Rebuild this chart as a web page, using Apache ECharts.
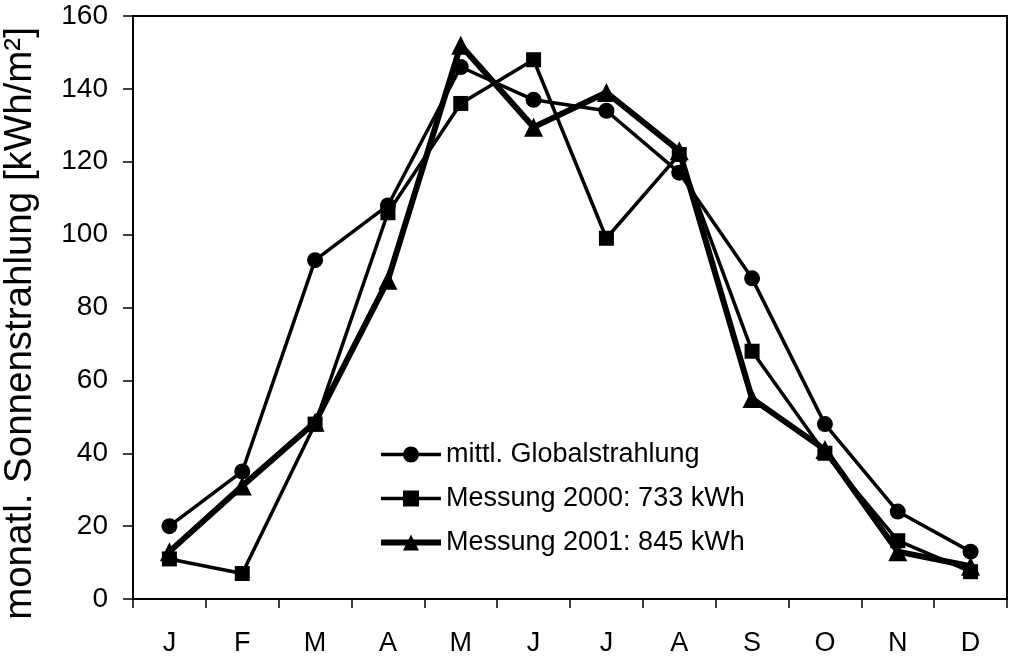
<!DOCTYPE html>
<html>
<head>
<meta charset="utf-8">
<script src="https://cdn.jsdelivr.net/npm/echarts@6/dist/echarts.min.js"></script>
<style>
html,body{margin:0;padding:0;background:#fff;}
#chart{width:1009px;height:660px;}
</style>
</head>
<body>
<div id="chart"></div>
<script>
const months = ['J','F','M','A','M','J','J','A','S','O','N','D'];
const seriesNames = ['mittl. Globalstrahlung','Messung 2000: 733 kWh','Messung 2001: 845 kWh'];
const globalMean = [20, 35, 93, 108, 146, 137, 134, 117, 88, 48, 24, 13];
const mess2000 = [11, 7, 48, 106, 136, 148, 99, 122, 68, 40, 16, 7.5];
const mess2001 = [13, 31, 48.5, 87.5, 152, 129.5, 139, 123, 55, 41, 13, 9];
const yTicks = [0, 20, 40, 60, 80, 100, 120, 140, 160];
const yName = 'monatl. Sonnenstrahlung [kWh/m²]';

const font = 'Liberation Sans, Arial, Helvetica, sans-serif';
const thin = 3.5, thick = 6;
const chart = echarts.init(document.getElementById('chart'));
chart.setOption({
  animation: false,
  backgroundColor: '#fff',
  grid: {left: 133, right: 2, top: 16, bottom: 61, show: true, borderColor: '#000', borderWidth: 2,
         containLabel: false, outerBoundsMode: 'none'},
  legend: {
    orient: 'vertical', left: 378, top: 441, padding: 0, itemWidth: 60, itemHeight: 20, itemGap: 17,
    textStyle: {fontFamily: font, fontSize: 27, color: '#000'},
    data: [
      {name: seriesNames[0], lineStyle: {width: thin, color: '#000'}},
      {name: seriesNames[1], lineStyle: {width: thin, color: '#000'}},
      {name: seriesNames[2], lineStyle: {width: thick, color: '#000'}}
    ]
  },
  xAxis: {
    type: 'category', data: months, boundaryGap: true,
    axisLine: {lineStyle: {color: '#000', width: 2}},
    axisTick: {show: true, length: 9, lineStyle: {color: '#000', width: 1.5}},
    axisLabel: {fontFamily: font, fontSize: 27, color: '#000', margin: 31},
    splitLine: {show: false}
  },
  yAxis: {
    type: 'value', min: yTicks[0], max: yTicks[yTicks.length-1], interval: 20,
    name: yName, nameLocation: 'middle', nameGap: 93,
    nameTextStyle: {fontFamily: font, fontSize: 38.5, color: '#000', padding: [0, 32, 0, 0]},
    axisLine: {show: true, lineStyle: {color: '#000', width: 2}},
    axisTick: {show: true, length: 10, lineStyle: {color: '#000', width: 1.5}},
    axisLabel: {fontFamily: font, fontSize: 28, color: '#000', margin: 25},
    splitLine: {show: false}
  },
  series: [
    {name: seriesNames[0], type: 'line', data: globalMean, symbol: 'circle', symbolSize: 16,
     lineStyle: {color: '#000', width: thin}, itemStyle: {color: '#000'}, z: 3},
    {name: seriesNames[1], type: 'line', data: mess2000, symbol: 'rect', symbolSize: 15,
     lineStyle: {color: '#000', width: thin}, itemStyle: {color: '#000'}, z: 2},
    {name: seriesNames[2], type: 'line', data: mess2001, symbol: 'triangle', symbolSize: 19,
     lineStyle: {color: '#000', width: thick}, itemStyle: {color: '#000'}, z: 4}
  ]
});
</script>
</body>
</html>
